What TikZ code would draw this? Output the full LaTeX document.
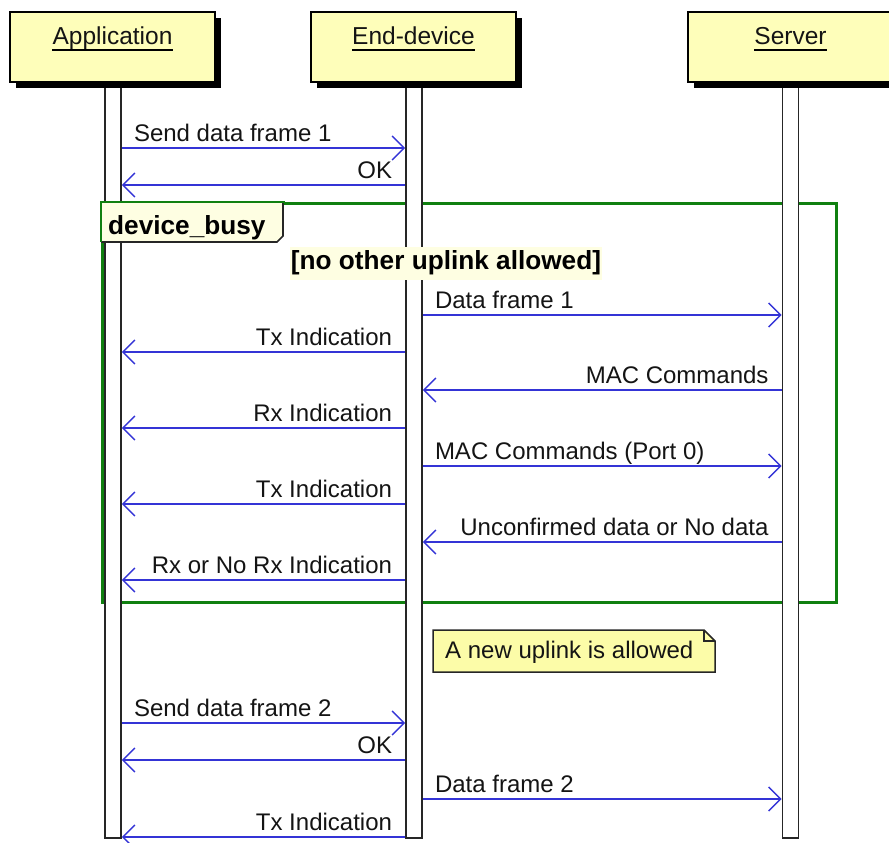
\documentclass[tikz,border=0pt]{standalone}
\usepackage{fontspec}
\setmainfont{Liberation Sans}
\usetikzlibrary{arrows.meta,calc,shadows}
\definecolor{msgblue}{RGB}{52,52,214}
\definecolor{partfill}{RGB}{254,254,186}
\definecolor{notefill}{RGB}{252,252,168}
\definecolor{tabfill}{RGB}{254,254,226}
\definecolor{framegreen}{RGB}{16,128,16}
\definecolor{txt}{RGB}{20,20,20}
\tikzset{
  lbl/.style={font=\fontsize{24}{28}\selectfont, text=txt, inner sep=0pt},
  boldlbl/.style={font=\bfseries\fontsize{26.2}{30}\selectfont, inner sep=0pt},
  msg/.style={draw=msgblue, line width=1.5pt, -{Straight Barb[length=12pt,width=24pt,line width=1.5pt]}},
  lifebar/.style={draw=black!85, line width=1.6pt, fill=white, minimum width=16pt, inner sep=0pt, anchor=north},
  partbox/.style={draw=black, line width=2.4pt, fill=partfill, minimum width=205pt, minimum height=70pt, inner sep=0pt,
    drop shadow={shadow xshift=6pt, shadow yshift=-6pt, fill=black, opacity=1}},
  parttitle/.style={font=\fontsize{24.5}{28}\selectfont, text=txt, inner sep=0pt, anchor=base},
}
\newcommand\msgR[5]{%
  \draw[msg] (#1.east |- 0,#3) -- (#2.west |- 0,#3);
  \node[lbl, anchor=base west] (#5) at ($(#1.east |- 0,#3)+(12,-7)$) {#4};}
\newcommand\msgL[5]{%
  \draw[msg] (#1.west |- 0,#3) -- (#2.east |- 0,#3);
  \node[lbl, anchor=base east] (#5) at ($(#1.west |- 0,#3)+(-13,-7)$) {#4};}
\begin{document}
\begin{tikzpicture}[x=1pt,y=-1pt]
\useasboundingbox (0,0) rectangle (889,843);
\clip (0,0) rectangle (889,843);

% group frame
\node[draw=framegreen, line width=2.5pt, minimum width=734pt, minimum height=399pt, inner sep=0pt, anchor=north west] (busy) at (101,202) {};

% lifeline bars
\node[lifebar, minimum height=755pt] (barA) at (113,82) {};
\node[lifebar, minimum height=755pt] (barE) at (414,82) {};
\node[lifebar, minimum height=755pt] (barS) at (790.5,82) {};

% group tab
\fill[tabfill] (busy.north west) -- (283,202) -- (283,236) -- (277,242) -- (101,242) -- cycle;
\draw[black!85, line width=1.6pt] (283,202) -- (283,236) -- (277,242) -- (101,242);
\draw[framegreen, line width=2.5pt] (101,242) -- (busy.north west) -- (285,202);
\node[boldlbl, anchor=base west] (busytitle) at (108,234) {device\_busy};
\node[boldlbl, anchor=base, fill=tabfill, inner xsep=1pt, inner ysep=2pt, text height=20pt, text depth=9pt] (cond) at (446,269) {[no other uplink allowed]};

% messages
\msgR{barA}{barE}{148}{Send data frame 1}{m1}
\msgL{barE}{barA}{185}{OK}{m2}
\msgR{barE}{barS}{315}{Data frame 1}{m3}
\msgL{barE}{barA}{352}{Tx Indication}{m4}
\msgL{barS}{barE}{390}{MAC Commands}{m5}
\msgL{barE}{barA}{428}{Rx Indication}{m6}
\msgR{barE}{barS}{466}{MAC Commands (Port 0)}{m7}
\msgL{barE}{barA}{504}{Tx Indication}{m8}
\msgL{barS}{barE}{542}{Unconfirmed data or No data}{m9}
\msgL{barE}{barA}{580}{Rx or No Rx Indication}{m10}
\msgR{barA}{barE}{723}{Send data frame 2}{m11}
\msgL{barE}{barA}{760}{OK}{m12}
\msgR{barE}{barS}{799}{Data frame 2}{m13}
\msgL{barE}{barA}{837}{Tx Indication}{m14}

% note
\draw[black!85, line width=1.5pt, fill=notefill] (433,630) -- (704,630) -- (715,641) -- (715,672) -- (433,672) -- cycle;
\draw[black!85, line width=1.2pt] (704,630) -- (704,641) -- (715,641);
\node[lbl, anchor=base west] (note) at (445,658) {A new uplink is allowed};

% participants
\node[partbox] (pA) at (112.5,47) {};
\node[parttitle] (tA) at (112.5,45) {Application};
\draw[line width=1.3pt] ([yshift=-5pt]tA.base west) -- ([yshift=-5pt]tA.base east);
\node[partbox] (pE) at (413.5,47) {};
\node[parttitle] (tE) at (413.5,45) {End-device};
\draw[line width=1.3pt] ([yshift=-5pt]tE.base west) -- ([yshift=-5pt]tE.base east);
\node[partbox] (pS) at (790.5,47) {};
\node[parttitle] (tS) at (790.5,45) {Server};
\draw[line width=1.3pt] ([yshift=-5pt]tS.base west) -- ([yshift=-5pt]tS.base east);
\end{tikzpicture}
\end{document}
